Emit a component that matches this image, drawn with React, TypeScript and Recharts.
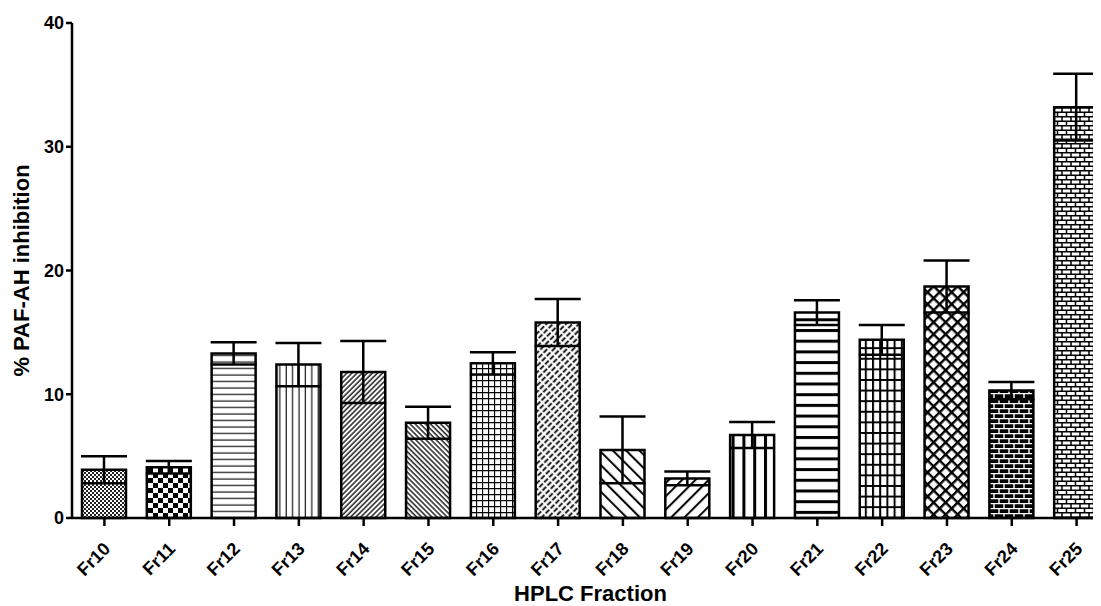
import React from 'react';
import { BarChart, Bar, XAxis, YAxis, ErrorBar, Cell, Label } from 'recharts';

const fractions = ['Fr10', 'Fr11', 'Fr12', 'Fr13', 'Fr14', 'Fr15', 'Fr16', 'Fr17', 'Fr18', 'Fr19', 'Fr20', 'Fr21', 'Fr22', 'Fr23', 'Fr24', 'Fr25'];
const inhibition = [3.9, 4.1, 13.3, 12.4, 11.8, 7.7, 12.5, 15.8, 5.5, 3.2, 6.7, 16.6, 14.4, 18.7, 10.3, 33.2];
const sem = [1.1, 0.5, 0.9, 1.75, 2.5, 1.3, 0.9, 1.9, 2.7, 0.55, 1.05, 1.0, 1.2, 2.1, 0.7, 2.7];
const yTicks = [0, 10, 20, 30, 40];

const data = fractions.map((name, i) => ({ name, value: inhibition[i], err: sem[i] }));

const FONT = '"Liberation Sans", Arial, sans-serif';

// hatch fills, one per bar
function Patterns() {
  return (
    <defs>
      <pattern id="pat0" width="4" height="4" patternUnits="userSpaceOnUse">
        <rect width="4" height="4" fill="#fff" />
        <rect width="2" height="2" fill="#222" />
        <rect x="2" y="2" width="2" height="2" fill="#222" />
      </pattern>
      <pattern id="pat1" width="10" height="10" patternUnits="userSpaceOnUse">
        <rect width="10" height="10" fill="#fff" />
        <rect width="5" height="5" fill="#000" />
        <rect x="5" y="5" width="5" height="5" fill="#000" />
      </pattern>
      <pattern id="pat2" width="6.5" height="6.5" patternUnits="userSpaceOnUse">
        <rect width="6.5" height="6.5" fill="#fff" />
        <line x1="0" y1="3" x2="6.5" y2="3" stroke="#000" strokeWidth="1.1" />
      </pattern>
      <pattern id="pat3" width="6.4" height="6.4" patternUnits="userSpaceOnUse">
        <rect width="6.4" height="6.4" fill="#fff" />
        <line x1="3" y1="0" x2="3" y2="6.4" stroke="#000" strokeWidth="1.1" />
      </pattern>
      <pattern id="pat4" width="3.6" height="3.6" patternUnits="userSpaceOnUse" patternTransform="rotate(45)">
        <rect width="3.6" height="3.6" fill="#fff" />
        <line x1="1" y1="0" x2="1" y2="3.6" stroke="#000" strokeWidth="1.3" />
      </pattern>
      <pattern id="pat5" width="3.6" height="3.6" patternUnits="userSpaceOnUse" patternTransform="rotate(-45)">
        <rect width="3.6" height="3.6" fill="#fff" />
        <line x1="1" y1="0" x2="1" y2="3.6" stroke="#000" strokeWidth="1.3" />
      </pattern>
      <pattern id="pat6" width="6" height="6" patternUnits="userSpaceOnUse">
        <rect width="6" height="6" fill="#fff" />
        <path d="M0 0.5 H6 M0.5 0 V6" stroke="#000" strokeWidth="1.3" />
      </pattern>
      <pattern id="pat7" width="4.6" height="7" patternUnits="userSpaceOnUse" patternTransform="rotate(45)">
        <rect width="4.6" height="7" fill="#fff" />
        <line x1="1.5" y1="0" x2="1.5" y2="5.2" stroke="#000" strokeWidth="1.8" />
      </pattern>
      <pattern id="pat8" width="9.4" height="9.4" patternUnits="userSpaceOnUse" patternTransform="rotate(-45)">
        <rect width="9.4" height="9.4" fill="#fff" />
        <line x1="2" y1="0" x2="2" y2="9.4" stroke="#000" strokeWidth="2" />
      </pattern>
      <pattern id="pat9" width="9.4" height="9.4" patternUnits="userSpaceOnUse" patternTransform="rotate(45)">
        <rect width="9.4" height="9.4" fill="#fff" />
        <line x1="2" y1="0" x2="2" y2="9.4" stroke="#000" strokeWidth="2" />
      </pattern>
      <pattern id="pat10" width="10.8" height="10.8" patternUnits="userSpaceOnUse">
        <rect width="10.8" height="10.8" fill="#fff" />
        <line x1="1.5" y1="0" x2="1.5" y2="10.8" stroke="#000" strokeWidth="3" />
      </pattern>
      <pattern id="pat11" width="10.7" height="10.7" patternUnits="userSpaceOnUse">
        <rect width="10.7" height="10.7" fill="#fff" />
        <line x1="0" y1="1.5" x2="10.7" y2="1.5" stroke="#000" strokeWidth="3" />
      </pattern>
      <pattern id="pat12" width="7.2" height="10.6" patternUnits="userSpaceOnUse">
        <rect width="7.2" height="10.6" fill="#fff" />
        <path d="M0 1 H7.2 M1 0 V10.6" stroke="#000" strokeWidth="2" />
      </pattern>
      <pattern id="pat13" width="8.5" height="8.5" patternUnits="userSpaceOnUse" patternTransform="rotate(45)">
        <rect width="8.5" height="8.5" fill="#fff" />
        <path d="M0 1.2 H8.5 M1.2 0 V8.5" stroke="#000" strokeWidth="2.4" />
      </pattern>
      <pattern id="pat14" width="10" height="10" patternUnits="userSpaceOnUse">
        <rect width="10" height="10" fill="#000" />
        <path d="M0 0.6 H10 M0 5.6 H10 M1 0 V5 M6 5 V10" stroke="#fff" strokeWidth="1.4" />
      </pattern>
      <pattern id="pat15" width="9" height="9" patternUnits="userSpaceOnUse">
        <rect width="9" height="9" fill="#fff" />
        <path d="M0 0.7 H9 M0 5.2 H9 M1 0 V4.5 M5.5 4.5 V9" stroke="#000" strokeWidth="1.5" />
      </pattern>
    </defs>
  );
}

function FracTick(props: any) {
  const { x, y, payload } = props;
  const tx = x + 7;
  const ty = y + 22;
  return (
    <text
      x={tx}
      y={ty}
      transform={`rotate(-45, ${tx}, ${ty})`}
      textAnchor="end"
      fontFamily={FONT}
      fontWeight="bold"
      fontSize={18}
      fill="#000"
    >
      {payload.value}
    </text>
  );
}

export default function App() {
  return (
    <div style={{ width: 1093, height: 598, overflow: 'hidden' }}>
      <BarChart width={1110} height={598} data={data} margin={{ top: 15, right: 9, left: 0, bottom: 0 }}>
        <Patterns />
        <XAxis
          dataKey="name"
          height={88}
          tick={<FracTick />}
          tickSize={8}
          interval={0}
          axisLine={{ stroke: '#000', strokeWidth: 2.5 }}
          tickLine={{ stroke: '#000', strokeWidth: 2.5 }}
        >
          <Label
            value="HPLC Fraction"
            position="insideBottom"
            offset={5}
            fill="#000"
            style={{ fontFamily: FONT, fontWeight: 'bold', fontSize: 22 }}
          />
        </XAxis>
        <YAxis
          width={64}
          domain={[0, 40]}
          ticks={yTicks}
          tickSize={6}
          interval={0}
          axisLine={{ stroke: '#000', strokeWidth: 2.5 }}
          tickLine={{ stroke: '#000', strokeWidth: 2.5 }}
          tick={{ fill: '#000', fontFamily: FONT, fontWeight: 'bold', fontSize: 18 }}
        >
          <Label
            value="% PAF-AH inhibition"
            angle={-90}
            position="center"
            dx={-19}
            fill="#000"
            style={{ fontFamily: FONT, fontWeight: 'bold', fontSize: 22, textAnchor: 'middle' }}
          />
        </YAxis>
        <Bar dataKey="value" barSize={44} stroke="#000" strokeWidth={2.5} isAnimationActive={false}>
          {data.map((d, i) => (
            <Cell key={d.name} fill={`url(#pat${i})`} />
          ))}
          <ErrorBar dataKey="err" width={23} stroke="#000" strokeWidth={2.5} isAnimationActive={false} />
        </Bar>
      </BarChart>
    </div>
  );
}
